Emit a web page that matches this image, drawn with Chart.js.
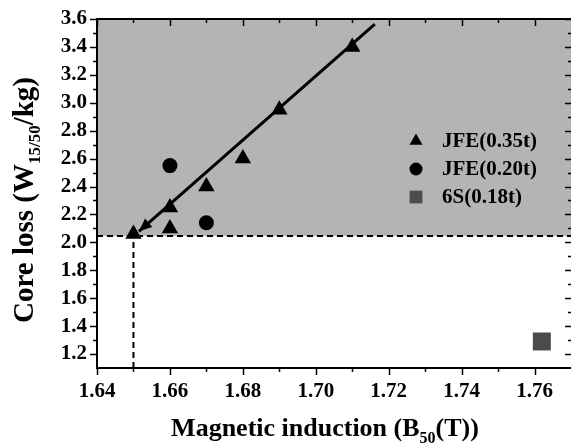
<!DOCTYPE html>
<html>
<head>
<meta charset="utf-8">
<script src="https://cdn.jsdelivr.net/npm/chart.js@4.4.1/dist/chart.umd.min.js"></script>
<style>
  html, body { margin: 0; padding: 0; background: #fff; }
</style>
</head>
<body>
<canvas id="chart" width="571" height="443"></canvas>
<script>
// данные
const jfe35 = [[1.65, 2.06], [1.66, 2.10], [1.66, 2.25], [1.67, 2.40], [1.68, 2.60], [1.69, 2.95], [1.71, 3.40]];
const jfe20 = [[1.66, 2.55], [1.67, 2.14]];
const s6 = [[1.762, 1.29]];
const trend = [[1.7162, 3.564], [1.6515, 2.079]];
const lossLimit = 2.045;
const bLimit = 1.65;

const xTicks = [1.64, 1.66, 1.68, 1.70, 1.72, 1.74, 1.76];
const xMinor = [1.65, 1.67, 1.69, 1.71, 1.73, 1.75];
const yTicks = [1.2, 1.4, 1.6, 1.8, 2.0, 2.2, 2.4, 2.6, 2.8, 3.0, 3.2, 3.4, 3.6];
const yMinor = [1.3, 1.5, 1.7, 1.9, 2.1, 2.3, 2.5, 2.7, 2.9, 3.1, 3.3, 3.5];

const toXY = arr => arr.map(p => ({ x: p[0], y: p[1] }));
const SERIF = "'Liberation Serif', 'Times New Roman', serif";

// пишем текст с нижним индексом
function richText(ctx, parts, x, y, size, subSize) {
  let w = 0;
  parts.forEach(p => {
    ctx.font = 'bold ' + (p.sub ? subSize : size) + 'px ' + SERIF;
    p.w = ctx.measureText(p.t).width;
    w += p.w;
  });
  let cx = x - w / 2;
  parts.forEach(p => {
    ctx.font = 'bold ' + (p.sub ? subSize : size) + 'px ' + SERIF;
    ctx.fillText(p.t, cx, p.sub ? y + 7 : y);
    cx += p.w;
  });
}

const decor = {
  id: 'decor',
  beforeDatasetsDraw(chart) {
    const { ctx, chartArea: a, scales } = chart;
    const yl = scales.y.getPixelForValue(lossLimit);
    ctx.save();
    ctx.fillStyle = '#b4b4b4';
    ctx.fillRect(a.left, a.top, a.right - a.left, yl - a.top);
    ctx.restore();
  },
  afterDatasetsDraw(chart) {
    // стрелка на конце линии тренда
    const meta = chart.getDatasetMeta(chart.data.datasets.findIndex(d => d.isTrend));
    const p0 = meta.data[0], p1 = meta.data[1];
    const ang = Math.atan2(p1.y - p0.y, p1.x - p0.x);
    const ctx = chart.ctx;
    ctx.save();
    ctx.translate(p1.x, p1.y);
    ctx.rotate(ang);
    ctx.fillStyle = '#000';
    ctx.beginPath();
    ctx.moveTo(0, 0);
    ctx.lineTo(-13, -5.5);
    ctx.lineTo(-13, 5.5);
    ctx.closePath();
    ctx.fill();
    ctx.restore();
  },
  afterDraw(chart) {
    const { ctx, chartArea: a, scales } = chart;
    const xs = scales.x, ys = scales.y;
    ctx.save();
    ctx.strokeStyle = '#000';
    ctx.lineWidth = 2;
    // рамка (правая ось уходит за край картинки)
    ctx.beginPath();
    ctx.moveTo(a.left, a.bottom); ctx.lineTo(a.left, a.top); ctx.lineTo(a.right, a.top);
    ctx.moveTo(a.left - 1, a.bottom); ctx.lineTo(a.right, a.bottom);
    ctx.stroke();
    // деления
    ctx.lineWidth = 1.5;
    ctx.beginPath();
    const tx = (vals, len, top) => vals.forEach(v => {
      const px = Math.round(xs.getPixelForValue(v)) + 0.5;
      ctx.moveTo(px, a.bottom); ctx.lineTo(px, a.bottom + len);
      ctx.moveTo(px, a.top); ctx.lineTo(px, a.top + top);
    });
    tx(xTicks, 7, 7);
    tx(xMinor, 4, 4);
    const ty = (vals, len, right) => vals.forEach(v => {
      const py = Math.round(ys.getPixelForValue(v)) + 0.5;
      ctx.moveTo(a.left, py); ctx.lineTo(a.left - len, py);
      ctx.moveTo(a.right, py); ctx.lineTo(a.right - right, py);
    });
    ty(yTicks, 7, 6);
    ty(yMinor, 4, 3);
    ctx.stroke();

    // легенда
    const items = chart.data.datasets.filter(d => d.legendRadius);
    items.forEach((d, i) => {
      const ly = 141 + i * 28;
      ctx.fillStyle = d.backgroundColor;
      Chart.helpers.drawPoint(ctx, { pointStyle: d.pointStyle, radius: d.legendRadius, rotation: 0 }, 416, ly);
      ctx.fillStyle = '#000';
      ctx.font = 'bold 21px ' + SERIF;
      ctx.textBaseline = 'middle';
      ctx.textAlign = 'left';
      ctx.fillText(d.label, 442, ly + 1);
    });

    // подписи осей
    ctx.fillStyle = '#000';
    ctx.textBaseline = 'alphabetic';
    ctx.textAlign = 'left';
    richText(ctx, [{ t: 'Magnetic induction (B' }, { t: '50', sub: true }, { t: '(T))' }], 325, 436, 26, 16);
    ctx.translate(33, 200);
    ctx.rotate(-Math.PI / 2);
    richText(ctx, [{ t: 'Core loss (W' }, { t: '15/50', sub: true }, { t: '/kg)' }], 0, 0, 29, 17);
    ctx.restore();
  }
};

new Chart(document.getElementById('chart'), {
  type: 'scatter',
  data: {
    datasets: [
      {
        label: 'JFE(0.35t)', data: toXY(jfe35), pointStyle: 'triangle',
        pointRadius: 9.5, backgroundColor: '#000', borderWidth: 0, legendRadius: 7.5
      },
      {
        label: 'JFE(0.20t)', data: toXY(jfe20), pointStyle: 'circle',
        pointRadius: 7.5, backgroundColor: '#000', borderWidth: 0, legendRadius: 6.5
      },
      {
        label: '6S(0.18t)', data: toXY(s6), pointStyle: 'rect',
        pointRadius: 12.7, backgroundColor: '#4b4b4b', borderWidth: 0, legendRadius: 9
      },
      {
        label: 'trend', data: toXY(trend), isTrend: true, showLine: true,
        borderColor: '#000', borderWidth: 3, pointRadius: 0
      },
      {
        label: 'limit-h', data: [{ x: 1.64, y: lossLimit }, { x: 1.77, y: lossLimit }], showLine: true,
        borderColor: '#000', borderWidth: 2, borderDash: [6, 4], pointRadius: 0
      },
      {
        label: 'limit-v', data: [{ x: bLimit, y: 1.1 }, { x: bLimit, y: lossLimit }], showLine: true,
        borderColor: '#000', borderWidth: 2, borderDash: [6, 4], pointRadius: 0
      }
    ]
  },
  options: {
    responsive: false,
    devicePixelRatio: 1,
    animation: false,
    layout: { autoPadding: false, padding: { left: 0, right: 0, top: 19, bottom: 0 } },
    plugins: { legend: { display: false }, tooltip: { enabled: false } },
    scales: {
      x: {
        type: 'linear', min: 1.64, max: 1.77,
        afterBuildTicks: s => { s.ticks = xTicks.map(v => ({ value: v })); },
        afterFit: s => { s.height = 75; s.paddingLeft = 0; s.paddingRight = 0; },
        grid: { display: false, drawTicks: false },
        border: { display: false },
        ticks: {
          padding: 11, color: '#000', maxRotation: 0,
          font: { family: SERIF, size: 21, weight: 'bold' },
          callback: v => v.toFixed(2)
        }
      },
      y: {
        type: 'linear', min: 1.1, max: 3.6,
        afterBuildTicks: s => { s.ticks = yTicks.map(v => ({ value: v })); },
        afterFit: s => { s.width = 97; s.paddingTop = 0; s.paddingBottom = 0; },
        grid: { display: false, drawTicks: false },
        border: { display: false },
        ticks: {
          padding: 10, color: '#000',
          font: { family: SERIF, size: 21, weight: 'bold' },
          callback: v => v.toFixed(1)
        }
      }
    }
  },
  plugins: [decor]
});
</script>
</body>
</html>
